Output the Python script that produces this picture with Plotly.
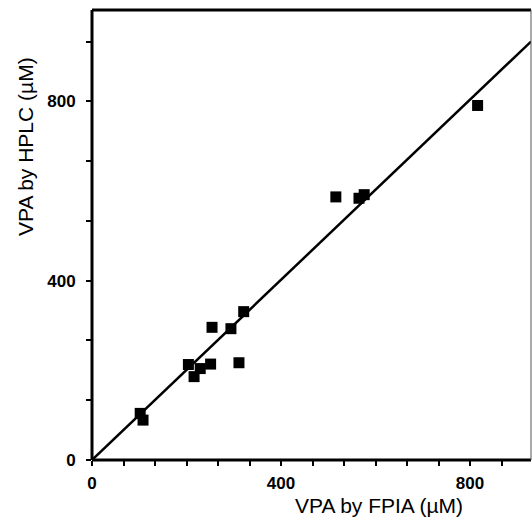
import plotly.graph_objects as go

# VPA concentrations (µM) measured by the two methods
fpia = [102, 108, 204, 216, 229, 251, 254, 294, 321, 311, 516, 565, 576, 816]
hplc = [104, 89, 213, 186, 204, 214, 296, 293, 331, 217, 587, 584, 592, 791]

# regression line through the origin
fit_slope = 1.005
fit_intercept = 0.0

x_max = 929
y_max = 1004

# tick positions (labels only on every major value)
x_ticks = [i * 400 / 6 for i in range(14)]
y_ticks = [i * 400 / 3 for i in range(8)]
major_labels = {0: "0", 400: "400", 800: "800"}


def labels_for(vals):
    out = []
    for v in vals:
        r = round(v)
        out.append(major_labels.get(r, "") if abs(v - r) < 1e-6 else "")
    return out


font_family = "Liberation Sans, Arial, Helvetica, sans-serif"

fig = go.Figure()

fig.add_trace(go.Scatter(
    x=[0, x_max],
    y=[fit_intercept, fit_intercept + fit_slope * x_max],
    mode="lines",
    line=dict(color="black", width=2.5),
    hoverinfo="skip",
))

fig.add_trace(go.Scatter(
    x=fpia, y=hplc,
    mode="markers",
    marker=dict(symbol="square", size=11, color="black", line=dict(width=0)),
))

axis_common = dict(
    showgrid=False,
    zeroline=False,
    showline=False,
    ticks="outside",
    ticklen=5,
    tickwidth=2,
    tickcolor="black",
    tickfont=dict(family=font_family, size=17, color="black", weight="bold"),
    tickmode="array",
)

fig.update_xaxes(range=[0, x_max], tickvals=x_ticks, ticktext=labels_for(x_ticks),
                 ticklabelstandoff=3, **axis_common)
fig.update_yaxes(range=[0, y_max], tickvals=y_ticks, ticktext=labels_for(y_ticks),
                 ticklabelstandoff=7, **axis_common)

# frame: heavy left, bottom and top edges, light right edge
frame = [
    dict(x0=0, x1=0, y0=0, y1=1, w=3, c="black"),
    dict(x0=0, x1=1, y0=0, y1=0, w=3, c="black"),
    dict(x0=0, x1=1, y0=1, y1=1, w=3, c="black"),
    dict(x0=1, x1=1, y0=0, y1=1, w=1, c="#555555"),
]
for s in frame:
    fig.add_shape(type="line", xref="paper", yref="paper",
                  x0=s["x0"], x1=s["x1"], y0=s["y0"], y1=s["y1"],
                  line=dict(color=s["c"], width=s["w"]))

fig.add_annotation(text="VPA by FPIA (µM)", xref="paper", yref="paper",
                   x=0.654, y=-0.102, xanchor="center", yanchor="middle",
                   showarrow=False,
                   font=dict(family=font_family, size=21, color="black"))
fig.add_annotation(text="VPA by HPLC (µM)", xref="paper", yref="paper",
                   x=-0.150, y=0.696, xanchor="center", yanchor="middle",
                   textangle=-90, showarrow=False,
                   font=dict(family=font_family, size=21, color="black"))

fig.update_layout(
    width=532, height=520,
    margin=dict(l=92, r=1, t=10, b=60),
    plot_bgcolor="white",
    paper_bgcolor="white",
    showlegend=False,
)

fig.write_html("out.html")
